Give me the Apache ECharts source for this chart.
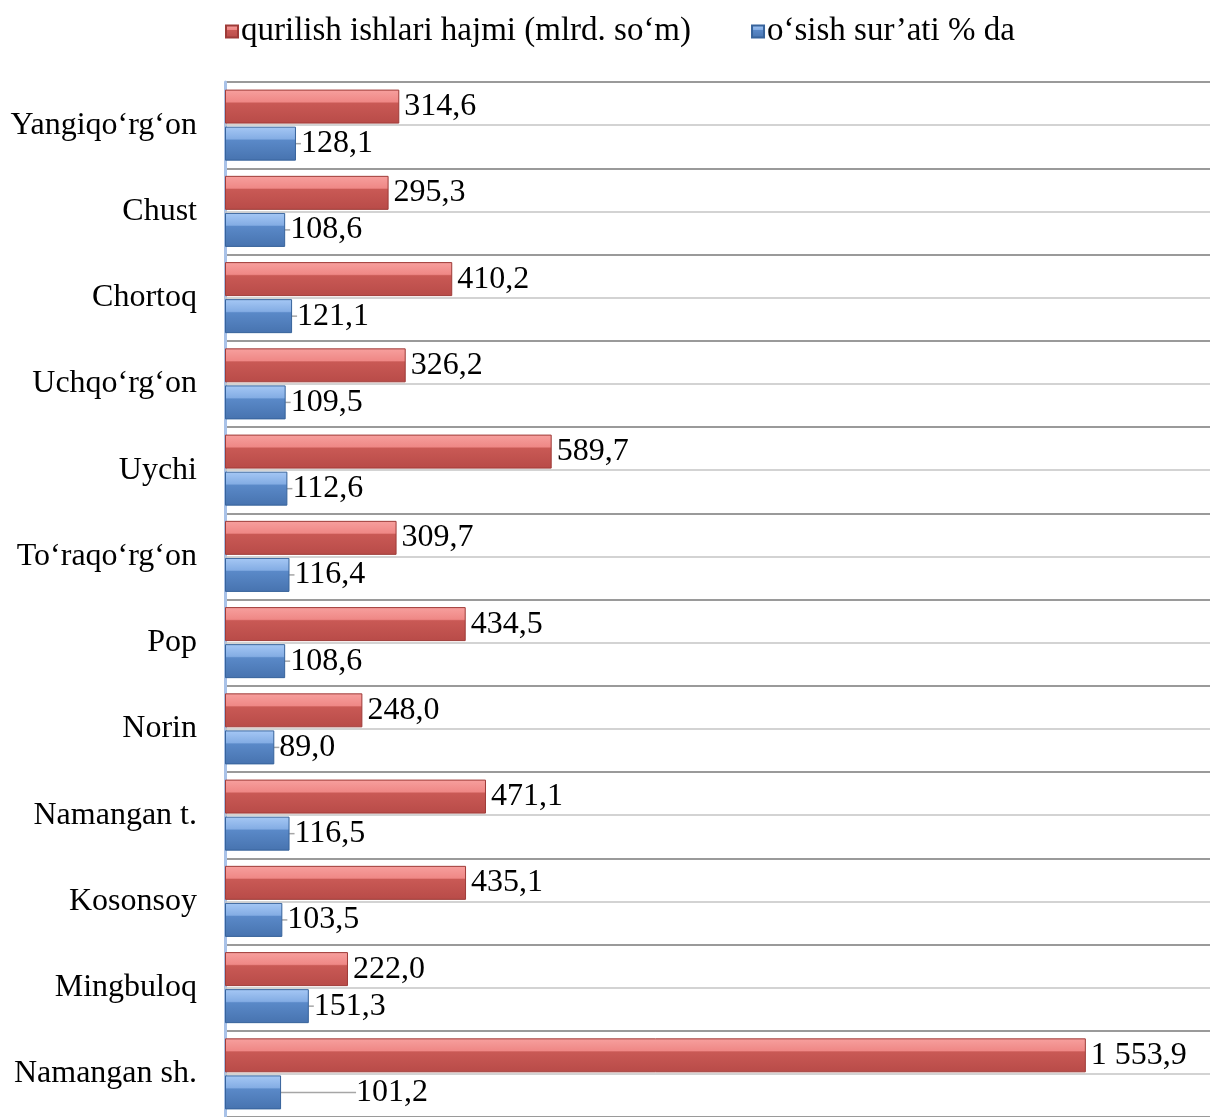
<!DOCTYPE html>
<html>
<head>
<meta charset="utf-8">
<script src="https://cdn.jsdelivr.net/npm/echarts@6/dist/echarts.min.js"></script>
<style>
  html, body { margin: 0; padding: 0; background: #fff; }
</style>
</head>
<body>
<!-- chart container, same size as the browser window -->
<div id="main" style="width: 1210px;height:1117px;"></div>

<script type="text/javascript">

    // districts, from top to bottom
    var categories = ['Yangiqo‘rg‘on', 'Chust', 'Chortoq', 'Uchqo‘rg‘on', 'Uychi', 'To‘raqo‘rg‘on',
        'Pop', 'Norin', 'Namangan t.', 'Kosonsoy', 'Mingbuloq', 'Namangan sh.'];

    // qurilish ishlari hajmi (mlrd. so'm)
    var volumeValues = [314.6, 295.3, 410.2, 326.2, 589.7, 309.7, 434.5, 248.0, 471.1, 435.1, 222.0, 1553.9];

    // o'sish sur'ati % da
    var growthValues = [128.1, 108.6, 121.1, 109.5, 112.6, 116.4, 108.6, 89.0, 116.5, 103.5, 151.3, 101.2];

    var seriesNames = ['qurilish ishlari hajmi (mlrd. so‘m)', 'o‘sish sur’ati % da'];

    var FONT = "'Liberation Serif', 'Times New Roman', serif";

    // 1553.9 -> "1 553,9"
    function fmt(v) {
        var parts = v.toFixed(1).split('.');
        var intPart = parts[0].replace(/\B(?=(\d{3})+(?!\d))/g, ' ');
        return intPart + ',' + parts[1];
    }

    // beveled look of the 3D bars
    function bevel(light, mid, dark, darker) {
        return new echarts.graphic.LinearGradient(0, 0, 0, 1, [
            { offset: 0, color: light },
            { offset: 0.36, color: mid },
            { offset: 0.4, color: dark },
            { offset: 1, color: darker }
        ]);
    }

    var labelStyle = {
        show: true,
        position: 'right',
        distance: 5,
        offset: [0, 2],
        fontFamily: FONT,
        fontSize: 32,
        color: '#000',
        formatter: function (p) { return fmt(p.value); }
    };

    var myChart = echarts.init(document.getElementById('main'));

    var option = {
        animation: false,
        legend: {
            top: 10,
            left: 220,
            itemWidth: 12,
            itemHeight: 12,
            itemGap: 60,
            icon: 'rect',
            textStyle: { fontFamily: FONT, fontSize: 33, color: '#000', padding: [0, 0, 0, -2] },
            data: seriesNames
        },
        grid: {
            left: 225,
            right: 0,
            top: 82,
            height: 1040,
            containLabel: false
        },
        xAxis: {
            type: 'value',
            min: 0,
            max: 1778,
            show: false,
            splitLine: { show: false }
        },
        yAxis: {
            type: 'category',
            inverse: true,
            data: categories,
            axisLine: { show: true, lineStyle: { color: '#a9c2e8', width: 3 } },
            axisTick: { show: false },
            axisLabel: { fontFamily: FONT, fontSize: 32, color: '#000', margin: 28 },
            splitLine: { show: true, lineStyle: { color: '#9a9a9a', width: 2 } }
        },
        series: [
            // faint line through the middle of every category (drawn under the bars)
            {
                name: 'mid',
                type: 'line',
                data: [],
                z: 1,
                markLine: {
                    silent: true,
                    symbol: 'none',
                    label: { show: false },
                    lineStyle: { color: '#c4c4c4', width: 1.5, type: 'solid' },
                    data: categories.map(function (c) { return { yAxis: c }; })
                }
            },
            {
                name: seriesNames[0],
                type: 'bar',
                data: volumeValues,
                barWidth: 34,
                barGap: '9%',
                z: 3,
                itemStyle: {
                    color: bevel('#f7a09e', '#ef8886', '#c95955', '#b84b48'),
                    borderColor: '#9e3b38',
                    borderWidth: 1
                },
                label: labelStyle
            },
            {
                name: seriesNames[1],
                type: 'bar',
                data: growthValues,
                barWidth: 34,
                z: 3,
                itemStyle: {
                    color: bevel('#a6c8f5', '#84ade4', '#5a89c8', '#4773af'),
                    borderColor: '#37639b',
                    borderWidth: 1
                },
                label: labelStyle,
                labelLine: { show: true, lineStyle: { color: '#a6a6a6', width: 1.5 } }
            }
        ],
        // the last growth label is pulled away from its bar with a leader line
        labelLayout: function (params) {
            if (params.seriesIndex === 2 && params.dataIndex === categories.length - 1) {
                return { dx: 70 };
            }
        }
    };

    myChart.setOption(option);

</script>
</body>
</html>
